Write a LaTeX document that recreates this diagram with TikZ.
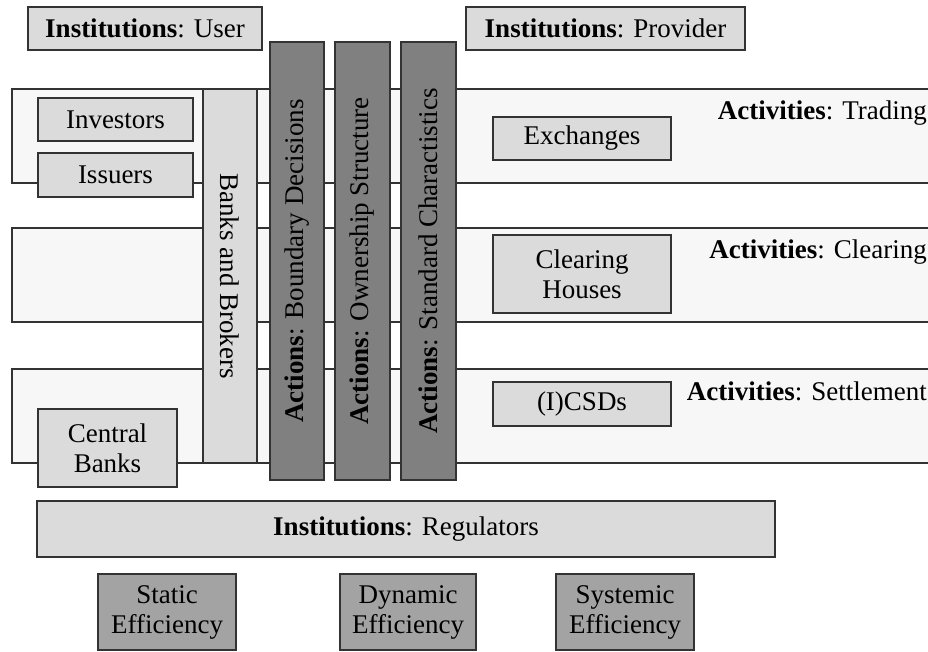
\documentclass[tikz,border=0pt]{standalone}
\usepackage{fontspec}
\setmainfont{Liberation Serif}
\begin{document}
\begin{tikzpicture}[x=1pt,y=-1pt,
  every node/.style={font=\fontsize{27}{30}\selectfont, inner sep=0pt, align=center},
  band/.style={draw=black!80, line width=1.2pt, fill=black!3},
  lbox/.style={draw=black!80, line width=1.2pt, fill=black!14},
  dbox/.style={draw=black!80, line width=1.2pt, fill=black!50},
  ebox/.style={draw=black!80, line width=1.2pt, fill=black!36},
  actlabel/.style={anchor=base east}]
\useasboundingbox (0,0) rectangle (928,651);
% activity bands
\node[band, minimum width=940, minimum height=94] (trading) at (482,136) {};
\node[band, minimum width=940, minimum height=94] (clearing) at (482,275) {};
\node[band, minimum width=940, minimum height=94] (settlement) at (482,416) {};
% top institutions
\node[lbox, minimum width=234, minimum height=43] (user) at (145,28.5) {\textbf{Institutions}: User};
\node[lbox, minimum width=279, minimum height=43] (provider) at (605.5,28.5) {\textbf{Institutions}: Provider};
% user boxes
\node[lbox, minimum width=155, minimum height=43] (investors) at (115.5,119.5) {Investors};
\node[lbox, minimum width=155, minimum height=44] (issuers) at (115.5,175) {Issuers};
\node[lbox, minimum width=139, minimum height=78] (central) at (107.5,448) {Central\\Banks};
% banks column
\node[lbox, rotate=-90, minimum width=374, minimum height=54] (banks) at (230,276) {Banks and Brokers};
% actions columns
\node[dbox, rotate=90, minimum width=438, minimum height=54] (boundary) at (297,261) {\textbf{Actions}: Boundary Decisions};
\node[dbox, rotate=90, minimum width=438, minimum height=55] (ownership) at (362.5,261) {\textbf{Actions}: Ownership Structure};
\node[dbox, rotate=90, minimum width=438, minimum height=55] (standard) at (428.5,261) {\textbf{Actions}: Standard Charactistics};
% provider boxes
\node[lbox, minimum width=178, minimum height=43] (exchanges) at (582,138.5) {Exchanges};
\node[lbox, minimum width=178, minimum height=78] (houses) at (582,274) {Clearing\\Houses};
\node[lbox, minimum width=178, minimum height=44] (csds) at (582,404) {(I)CSDs};
% activity labels
\node[actlabel] (tradinglabel) at (927,119) {\textbf{Activities}: Trading};
\node[actlabel] (clearinglabel) at (927,258) {\textbf{Activities}: Clearing};
\node[actlabel] (settlementlabel) at (927,400) {\textbf{Activities}: Settlement};
% regulators
\node[lbox, minimum width=738, minimum height=56] (regulators) at (406,529) {\textbf{Institutions}: Regulators};
% efficiencies
\node[ebox, minimum width=138, minimum height=76] (static) at (167,612) {Static\\Efficiency};
\node[ebox, minimum width=136, minimum height=76] (dynamic) at (408,612) {Dynamic\\Efficiency};
\node[ebox, minimum width=138, minimum height=76] (systemic) at (625,612) {Systemic\\Efficiency};
\end{tikzpicture}
\end{document}
